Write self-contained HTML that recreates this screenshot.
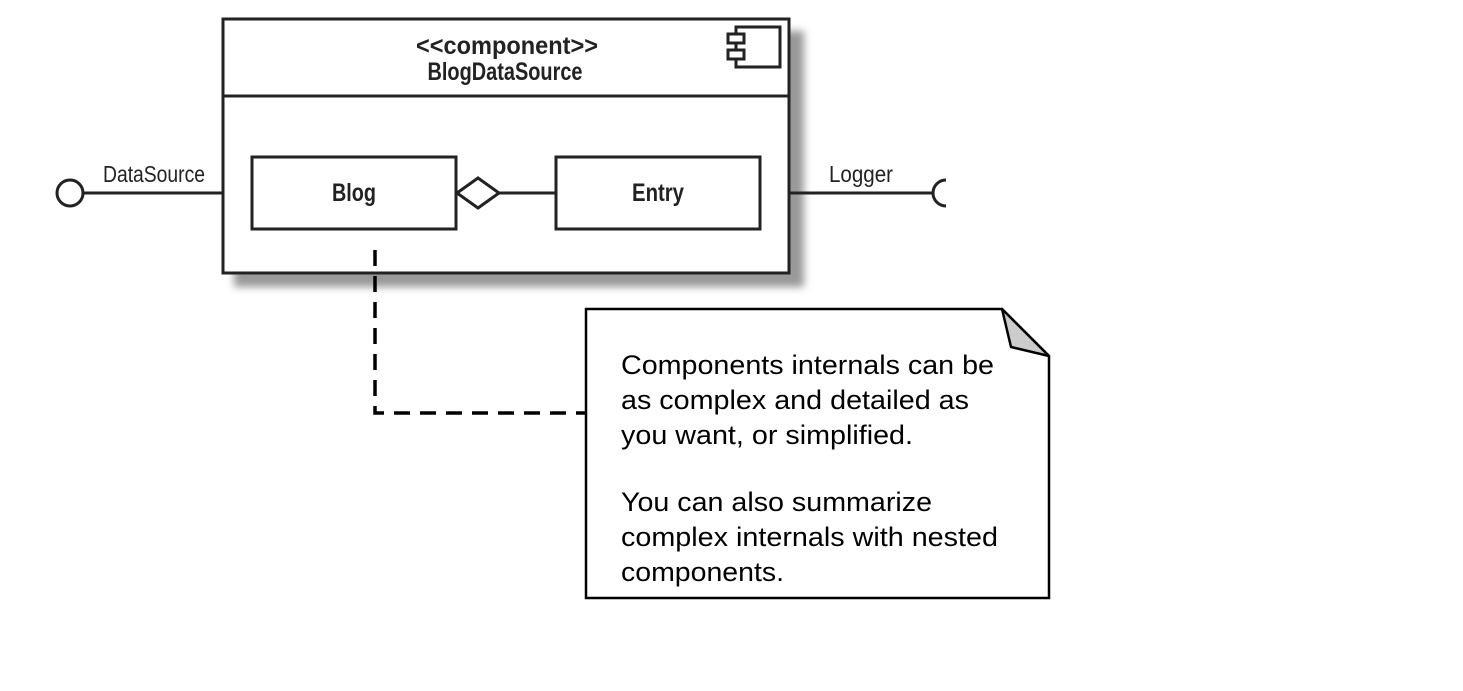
<!DOCTYPE html>
<html><head><style>
html,body{margin:0;padding:0;background:#fff;}
</style></head><body>
<svg width="1463" height="686" xmlns="http://www.w3.org/2000/svg">
<defs><filter id="b" x="-10%" y="-10%" width="120%" height="130%"><feGaussianBlur stdDeviation="4"/></filter></defs>
<rect x="234" y="31" width="570" height="256" fill="#999" filter="url(#b)"/>
<rect x="223" y="19" width="566" height="254" fill="#fff" stroke="#222" stroke-width="3"/>
<line x1="223" y1="96" x2="789" y2="96" stroke="#222" stroke-width="3"/>
<rect x="736" y="27" width="44" height="40" fill="#fff" stroke="#222" stroke-width="3"/>
<rect x="728" y="34" width="16" height="9" fill="#fff" stroke="#222" stroke-width="3"/>
<rect x="728" y="50" width="16" height="9" fill="#fff" stroke="#222" stroke-width="3"/>
<rect x="252" y="157" width="204" height="72" fill="#fff" stroke="#222" stroke-width="3"/>
<rect x="556" y="157" width="204" height="72" fill="#fff" stroke="#222" stroke-width="3"/>
<polygon points="457,193 478,178 499,193 478,208" fill="#fff" stroke="#222" stroke-width="3"/>
<line x1="499" y1="193" x2="556" y2="193" stroke="#222" stroke-width="3"/>
<circle cx="70" cy="193" r="13" fill="#fff" stroke="#222" stroke-width="3"/>
<line x1="83" y1="193" x2="223" y2="193" stroke="#222" stroke-width="3"/>
<line x1="789" y1="193" x2="934" y2="193" stroke="#222" stroke-width="3"/>
<path d="M946,180 A13,13 0 0,0 946,206" fill="none" stroke="#222" stroke-width="3"/>
<g font-family="Liberation Sans, sans-serif" fill="#222" font-weight="bold">
<text x="507" y="54" font-size="25" text-anchor="middle" textLength="182" lengthAdjust="spacingAndGlyphs">&lt;&lt;component&gt;&gt;</text>
<text x="505" y="80" font-size="25" text-anchor="middle" textLength="155" lengthAdjust="spacingAndGlyphs">BlogDataSource</text>
<text x="354" y="201" font-size="25" text-anchor="middle" textLength="44" lengthAdjust="spacingAndGlyphs">Blog</text>
<text x="658" y="201" font-size="25" text-anchor="middle" textLength="52" lengthAdjust="spacingAndGlyphs">Entry</text>
</g>
<g font-family="Liberation Sans, sans-serif" fill="#222">
<text x="103" y="182" font-size="23" textLength="102" lengthAdjust="spacingAndGlyphs">DataSource</text>
<text x="829" y="182" font-size="23" textLength="64" lengthAdjust="spacingAndGlyphs">Logger</text>
</g>
<path d="M375,250 V413 H585" fill="none" stroke="#000" stroke-width="3.5" stroke-dasharray="16,10"/>
<path d="M586,309 H1002 L1049,356 V598 H586 Z" fill="#fff" stroke="#000" stroke-width="2.5"/>
<path d="M1002,309 L1011,347 L1049,356 Z" fill="#ccc" stroke="#000" stroke-width="2.5" stroke-linejoin="round"/>
<g font-family="Liberation Sans, sans-serif" font-size="27" fill="#000">
<text x="621" y="374" textLength="373" lengthAdjust="spacingAndGlyphs">Components internals can be</text>
<text x="621" y="409" textLength="348" lengthAdjust="spacingAndGlyphs">as complex and detailed as</text>
<text x="621" y="444" textLength="292" lengthAdjust="spacingAndGlyphs">you want, or simplified.</text>
<text x="621" y="511" textLength="311" lengthAdjust="spacingAndGlyphs">You can also summarize</text>
<text x="621" y="546" textLength="377" lengthAdjust="spacingAndGlyphs">complex internals with nested</text>
<text x="621" y="581" textLength="163" lengthAdjust="spacingAndGlyphs">components.</text>
</g>
</svg>
</body></html>
